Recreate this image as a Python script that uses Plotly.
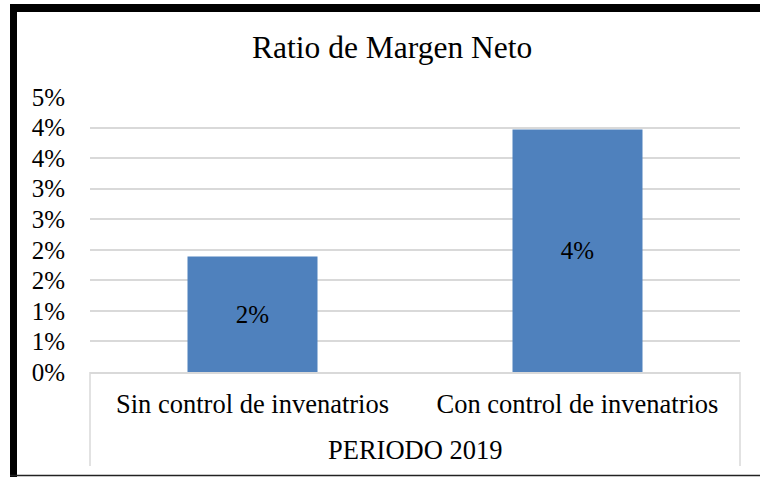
import plotly.graph_objects as go

# data
periodo = "PERIODO 2019"
escenarios = ["Sin control de invenatrios", "Con control de invenatrios"]
margen_neto = [0.0189, 0.0397]

tick_vals = [0, 0.005, 0.01, 0.015, 0.02, 0.025, 0.03, 0.035, 0.04, 0.045]
tick_text = ["0%", "1%", "1%", "2%", "2%", "3%", "3%", "4%", "4%", "5%"]

FONT = "Liberation Serif"
GRID = "#d9d9d9"

# plot area geometry (pixels) used to place the frame and group box
W, H = 760, 477
L, R, T, B = 90, 20, 97, 105
pw, ph = W - L - R, H - T - B


def px_x(x):
    return (x - L) / pw


def px_y(y):
    return (H - B - y) / ph


fig = go.Figure()

fig.add_trace(go.Bar(
    x=escenarios,
    y=margen_neto,
    marker=dict(color="#4f81bd", line=dict(width=0)),
    texttemplate="%{y:.0%}",
    textposition="inside",
    insidetextanchor="middle",
    textfont=dict(family=FONT, size=25, color="black"),
    hoverinfo="skip",
))

fig.update_layout(
    width=W,
    height=H,
    margin=dict(l=L, r=R, t=T, b=B),
    paper_bgcolor="white",
    plot_bgcolor="white",
    showlegend=False,
    bargap=0.6,
    font=dict(family=FONT, size=25, color="black"),
    title=dict(
        text="Ratio de Margen Neto",
        x=0.516,
        xanchor="center",
        y=0.902,
        yanchor="middle",
        font=dict(family=FONT, size=31.5, color="black"),
    ),
    xaxis=dict(
        type="category",
        showline=True,
        linecolor=GRID,
        linewidth=1.5,
        showgrid=False,
        ticks="outside",
        ticklen=7,
        tickcolor="rgba(0,0,0,0)",
        tickfont=dict(family=FONT, size=26.5, color="black"),
    ),
    yaxis=dict(
        range=[0, 0.045],
        tickvals=tick_vals,
        ticktext=tick_text,
        showgrid=True,
        gridcolor=GRID,
        gridwidth=1.5,
        zeroline=False,
        showline=False,
        ticks="",
        ticklabelstandoff=24,
        tickfont=dict(family=FONT, size=25, color="black"),
    ),
    annotations=[
        dict(text=periodo, xref="paper", yref="paper", x=0.5, y=px_y(450),
             xanchor="center", yanchor="middle", showarrow=False,
             font=dict(family=FONT, size=26.5, color="black")),
    ],
    shapes=[
        # group box sides under the category labels
        dict(type="line", xref="paper", yref="paper",
             x0=0, y0=0, x1=0, y1=px_y(466),
             line=dict(color=GRID, width=1.5)),
        dict(type="line", xref="paper", yref="paper",
             x0=1, y0=0, x1=1, y1=px_y(466),
             line=dict(color=GRID, width=1.5)),
        # thick black frame: top and left edges
        dict(type="line", xref="paper", yref="paper",
             x0=px_x(10), y0=px_y(8), x1=px_x(760), y1=px_y(8),
             line=dict(color="black", width=8), layer="above"),
        dict(type="line", xref="paper", yref="paper",
             x0=px_x(13.5), y0=px_y(4), x1=px_x(13.5), y1=px_y(477),
             line=dict(color="black", width=7), layer="above"),
        # thin bottom line
        dict(type="line", xref="paper", yref="paper",
             x0=px_x(10), y0=px_y(475.5), x1=px_x(760), y1=px_y(475.5),
             line=dict(color="#222222", width=1.5), layer="above"),
    ],
)

# drop the default page margin so the figure sits at the window corner
fig.write_html("out.html", config={"displayModeBar": False},
               post_script="document.body.style.margin='0';")
